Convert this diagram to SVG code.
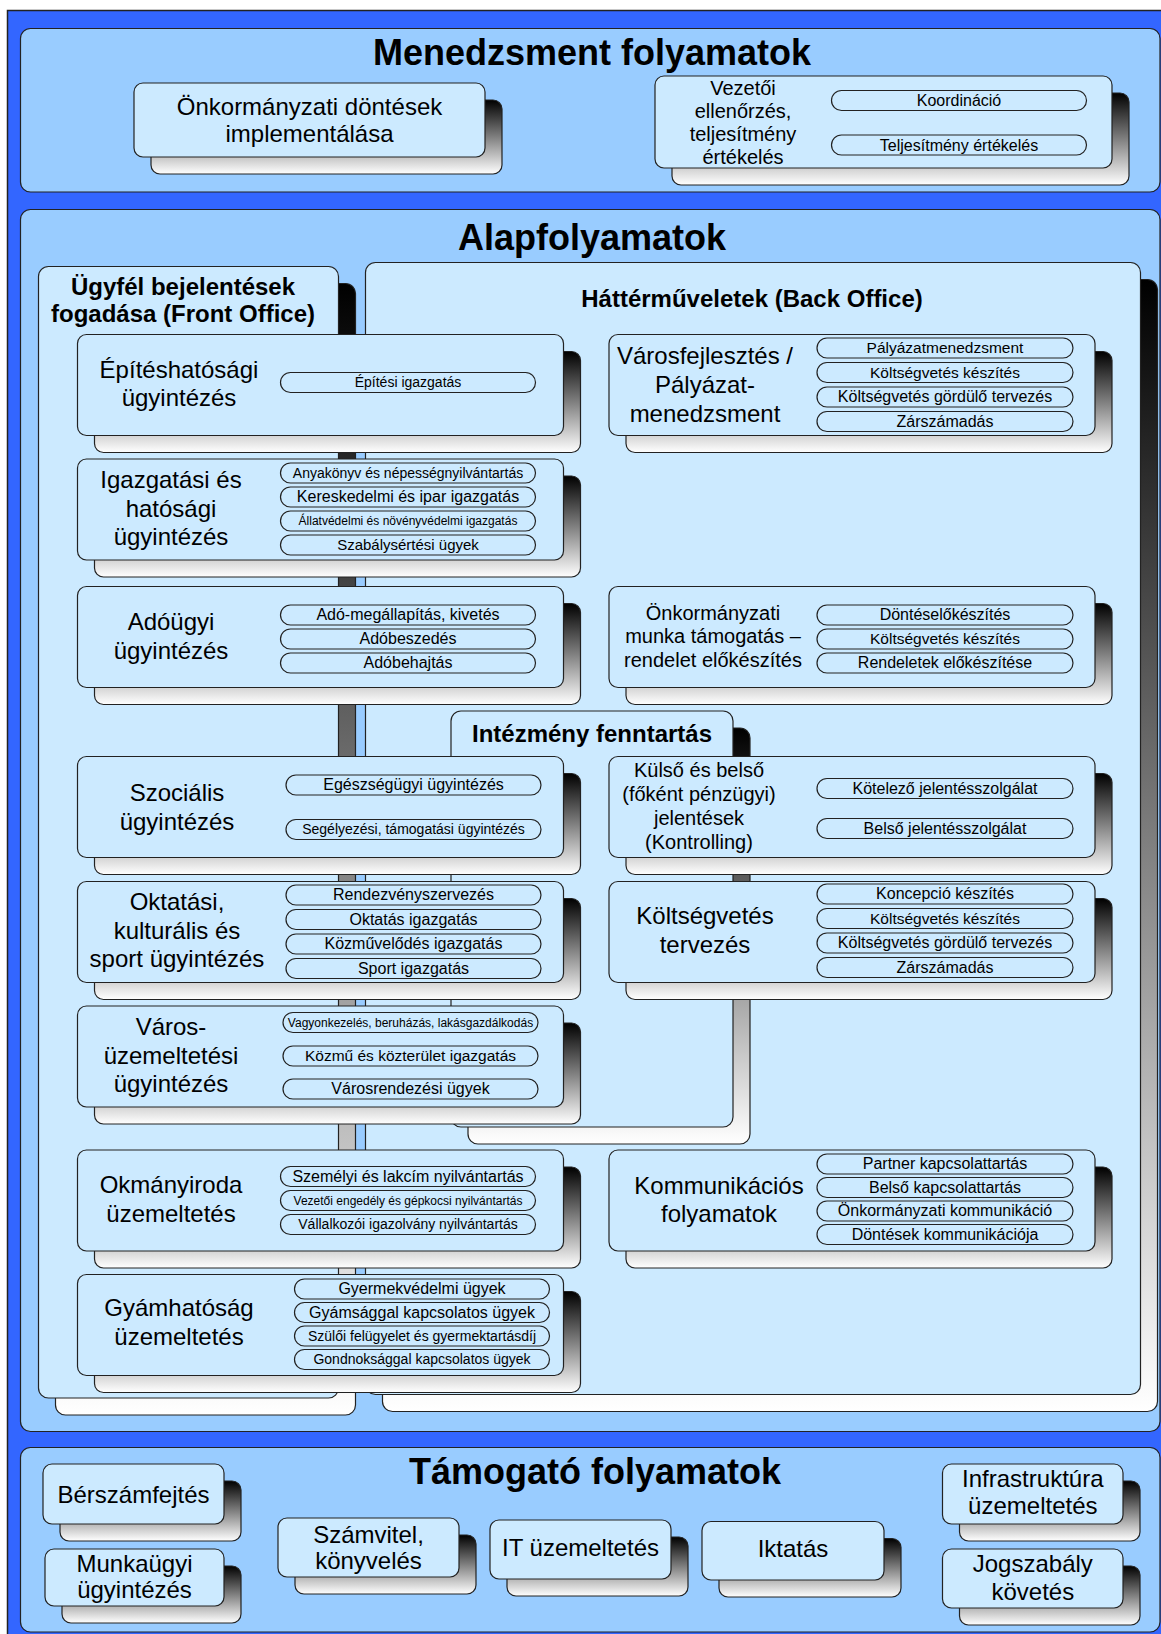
<svg xmlns="http://www.w3.org/2000/svg" width="1161" height="1634" viewBox="0 0 1161 1634">
  <defs>
    <linearGradient id="shade" x1="0" y1="0" x2="0" y2="1">
      <stop offset="0" stop-color="#000000"/>
      <stop offset="1" stop-color="#ffffff"/>
    </linearGradient>
    <style>
      .outer{fill:#3366ff;stroke:#222;stroke-width:1.5}
      .sec{fill:#99ccff;stroke:#222;stroke-width:1.2}
      .box{fill:#cceaff;stroke:#222;stroke-width:1.2}
      .sh{fill:url(#shade);stroke:#222;stroke-width:1.2}
      .pill{fill:#cceaff;stroke:#222;stroke-width:1.2}
      text{font-family:"Liberation Sans",Arial,sans-serif;fill:#000;text-anchor:middle}
      .h1{font-size:36px;font-weight:bold}
      .h2{font-size:24px;font-weight:bold}
      .l{font-size:24px}
      .m{font-size:20px}
      .p16{font-size:16px}
      .p155{font-size:15.5px}
      .p15{font-size:15px}
      .p14{font-size:14px}
      .p12{font-size:12px}
    </style>
  </defs>

  <!-- background frame and the three process bands -->
  <rect class="outer" x="7.5" y="10.5" width="1170" height="1640"/>
  <g id="menedzsment">
    <rect class="sec" x="20.5" y="28.5" width="1139.5" height="163.5" rx="10"/>
    <text class="h1" x="592" y="65">Menedzsment folyamatok</text>
  </g>
  <g id="alapfolyamatok">
    <rect class="sec" x="20.5" y="209.5" width="1139.5" height="1222" rx="10"/>
    <text class="h1" x="592" y="250">Alapfolyamatok</text>
  </g>
  <g id="tamogato">
    <rect class="sec" x="20.5" y="1447.5" width="1139.5" height="184.5" rx="10"/>
    <text class="h1" x="595" y="1484">Támogató folyamatok</text>
  </g>

  <!-- management processes -->
  <g id="onkorm-dontesek">
    <rect class="sh" x="151" y="100" width="351" height="74" rx="9"/>
    <rect class="box" x="134" y="83" width="351" height="74" rx="9"/>
    <text class="l" x="309.5" y="115">Önkormányzati döntések</text>
    <text class="l" x="309.5" y="142">implementálása</text>
  </g>
  <g id="vezetoi-ellenorzes">
    <rect class="sh" x="672" y="93" width="457" height="92" rx="9"/>
    <rect class="box" x="655" y="76" width="457" height="92" rx="9"/>
    <text class="m" x="743" y="95">Vezetői</text>
    <text class="m" x="743" y="118">ellenőrzés,</text>
    <text class="m" x="743" y="141">teljesítmény</text>
    <text class="m" x="743" y="164">értékelés</text>
    <rect class="pill" x="831.5" y="90.5" width="255" height="20" rx="10"/>
    <text class="p16" x="959" y="106">Koordináció</text>
    <rect class="pill" x="831.5" y="135" width="255" height="20" rx="10"/>
    <text class="p16" x="959" y="150.5">Teljesítmény értékelés</text>
  </g>

  <!-- containers of the core processes -->
  <g id="front-office">
    <rect class="sh" x="55.5" y="283.5" width="300" height="1131.5" rx="10"/>
    <rect class="box" x="38.5" y="266.5" width="300" height="1131.5" rx="10"/>
    <text class="h2" x="183" y="295">Ügyfél bejelentések</text>
    <text class="h2" x="183" y="322">fogadása (Front Office)</text>
  </g>
  <g id="back-office">
    <rect class="sh" x="382.5" y="279.5" width="775" height="1132" rx="10"/>
    <rect class="box" x="365.5" y="262.5" width="775" height="1132" rx="10"/>
    <text class="h2" x="752" y="307">Háttérműveletek (Back Office)</text>
  </g>
  <g id="intezmeny-fenntartas">
    <rect class="sh" x="468" y="728" width="282" height="416" rx="10"/>
    <rect class="box" x="451" y="711" width="282" height="416" rx="10"/>
    <text class="h2" x="592" y="742">Intézmény fenntartás</text>
  </g>

  <!-- front office units -->
  <g id="epiteshatosagi">
    <rect class="sh" x="94.5" y="351.5" width="486" height="101" rx="9"/>
    <rect class="box" x="77.5" y="334.5" width="486" height="101" rx="9"/>
    <text class="l" x="179" y="378">Építéshatósági</text>
    <text class="l" x="179" y="406">ügyintézés</text>
    <rect class="pill" x="280.5" y="372.5" width="255" height="20" rx="10"/>
    <text class="p14" x="408" y="387">Építési igazgatás</text>
  </g>
  <g id="igazgatasi">
    <rect class="sh" x="94.5" y="476" width="486" height="101" rx="9"/>
    <rect class="box" x="77.5" y="459" width="486" height="101" rx="9"/>
    <text class="l" x="171" y="488">Igazgatási és</text>
    <text class="l" x="171" y="516.5">hatósági</text>
    <text class="l" x="171" y="545">ügyintézés</text>
    <rect class="pill" x="280.5" y="463" width="255" height="20" rx="10"/>
    <text class="p14" x="408" y="477.5">Anyakönyv és népességnyilvántartás</text>
    <rect class="pill" x="280.5" y="487" width="255" height="20" rx="10"/>
    <text class="p16" x="408" y="502">Kereskedelmi és ipar igazgatás</text>
    <rect class="pill" x="280.5" y="511" width="255" height="20" rx="10"/>
    <text class="p12" x="408" y="525">Állatvédelmi és növényvédelmi igazgatás</text>
    <rect class="pill" x="280.5" y="535" width="255" height="20" rx="10"/>
    <text class="p15" x="408" y="549.5">Szabálysértési ügyek</text>
  </g>
  <g id="adougyi">
    <rect class="sh" x="94.5" y="603.5" width="486" height="101" rx="9"/>
    <rect class="box" x="77.5" y="586.5" width="486" height="101" rx="9"/>
    <text class="l" x="171" y="630">Adóügyi</text>
    <text class="l" x="171" y="658.5">ügyintézés</text>
    <rect class="pill" x="280.5" y="605" width="255" height="20" rx="10"/>
    <text class="p16" x="408" y="620">Adó-megállapítás, kivetés</text>
    <rect class="pill" x="280.5" y="629" width="255" height="20" rx="10"/>
    <text class="p16" x="408" y="644">Adóbeszedés</text>
    <rect class="pill" x="280.5" y="653" width="255" height="20" rx="10"/>
    <text class="p16" x="408" y="668">Adóbehajtás</text>
  </g>
  <g id="szocialis">
    <rect class="sh" x="94.5" y="773.5" width="486" height="101" rx="9"/>
    <rect class="box" x="77.5" y="756.5" width="486" height="101" rx="9"/>
    <text class="l" x="177" y="800.5">Szociális</text>
    <text class="l" x="177" y="829.5">ügyintézés</text>
    <rect class="pill" x="286" y="775" width="255" height="20" rx="10"/>
    <text class="p16" x="413.5" y="790">Egészségügyi ügyintézés</text>
    <rect class="pill" x="286" y="819.5" width="255" height="20" rx="10"/>
    <text class="p14" x="413.5" y="834">Segélyezési, támogatási ügyintézés</text>
  </g>
  <g id="oktatasi">
    <rect class="sh" x="94.5" y="898.5" width="486" height="101" rx="9"/>
    <rect class="box" x="77.5" y="881.5" width="486" height="101" rx="9"/>
    <text class="l" x="177" y="910">Oktatási,</text>
    <text class="l" x="177" y="938.5">kulturális és</text>
    <text class="l" x="177" y="967">sport ügyintézés</text>
    <rect class="pill" x="286" y="885" width="255" height="20" rx="10"/>
    <text class="p16" x="413.5" y="900">Rendezvényszervezés</text>
    <rect class="pill" x="286" y="909.5" width="255" height="20" rx="10"/>
    <text class="p16" x="413.5" y="924.5">Oktatás igazgatás</text>
    <rect class="pill" x="286" y="934" width="255" height="20" rx="10"/>
    <text class="p16" x="413.5" y="949">Közművelődés igazgatás</text>
    <rect class="pill" x="286" y="958.5" width="255" height="20" rx="10"/>
    <text class="p16" x="413.5" y="973.5">Sport igazgatás</text>
  </g>
  <g id="varosuzemeltetesi">
    <rect class="sh" x="94.5" y="1023" width="486" height="101" rx="9"/>
    <rect class="box" x="77.5" y="1006" width="486" height="101" rx="9"/>
    <text class="l" x="171" y="1035">Város-</text>
    <text class="l" x="171" y="1063.5">üzemeltetési</text>
    <text class="l" x="171" y="1092">ügyintézés</text>
    <rect class="pill" x="283" y="1012.5" width="255" height="20" rx="10"/>
    <text class="p12" x="410.5" y="1026.5">Vagyonkezelés, beruházás, lakásgazdálkodás</text>
    <rect class="pill" x="283" y="1046" width="255" height="20" rx="10"/>
    <text class="p155" x="410.5" y="1061">Közmű és közterület igazgatás</text>
    <rect class="pill" x="283" y="1079" width="255" height="20" rx="10"/>
    <text class="p16" x="410.5" y="1094">Városrendezési ügyek</text>
  </g>
  <g id="okmanyiroda">
    <rect class="sh" x="94.5" y="1167" width="486" height="101" rx="9"/>
    <rect class="box" x="77.5" y="1150" width="486" height="101" rx="9"/>
    <text class="l" x="171" y="1193">Okmányiroda</text>
    <text class="l" x="171" y="1222">üzemeltetés</text>
    <rect class="pill" x="280.5" y="1166.5" width="255" height="20" rx="10"/>
    <text class="p16" x="408" y="1181.5">Személyi és lakcím nyilvántartás</text>
    <rect class="pill" x="280.5" y="1190.5" width="255" height="20" rx="10"/>
    <text class="p12" x="408" y="1204.5">Vezetői engedély és gépkocsi nyilvántartás</text>
    <rect class="pill" x="280.5" y="1214.5" width="255" height="20" rx="10"/>
    <text class="p14" x="408" y="1229">Vállalkozói igazolvány nyilvántartás</text>
  </g>
  <g id="gyamhatosag">
    <rect class="sh" x="94.5" y="1291.5" width="486" height="101" rx="9"/>
    <rect class="box" x="77.5" y="1274.5" width="486" height="101" rx="9"/>
    <text class="l" x="179" y="1316">Gyámhatóság</text>
    <text class="l" x="179" y="1345">üzemeltetés</text>
    <rect class="pill" x="294.5" y="1279" width="255" height="20" rx="10"/>
    <text class="p16" x="422" y="1294">Gyermekvédelmi ügyek</text>
    <rect class="pill" x="294.5" y="1302.5" width="255" height="20" rx="10"/>
    <text class="p16" x="422" y="1317.5">Gyámsággal kapcsolatos ügyek</text>
    <rect class="pill" x="294.5" y="1326" width="255" height="20" rx="10"/>
    <text class="p14" x="422" y="1340.5">Szülői felügyelet és gyermektartásdíj</text>
    <rect class="pill" x="294.5" y="1349.5" width="255" height="20" rx="10"/>
    <text class="p14" x="422" y="1364">Gondnoksággal kapcsolatos ügyek</text>
  </g>

  <!-- back office units -->
  <g id="varosfejlesztes">
    <rect class="sh" x="626" y="351.5" width="486" height="101" rx="9"/>
    <rect class="box" x="609" y="334.5" width="486" height="101" rx="9"/>
    <text class="l" x="705" y="364">Városfejlesztés /</text>
    <text class="l" x="705" y="393">Pályázat-</text>
    <text class="l" x="705" y="421.5">menedzsment</text>
    <rect class="pill" x="817" y="338" width="256" height="20" rx="10"/>
    <text class="p155" x="945" y="353">Pályázatmenedzsment</text>
    <rect class="pill" x="817" y="362.5" width="256" height="20" rx="10"/>
    <text class="p155" x="945" y="377.5">Költségvetés készítés</text>
    <rect class="pill" x="817" y="387" width="256" height="20" rx="10"/>
    <text class="p16" x="945" y="402">Költségvetés gördülő tervezés</text>
    <rect class="pill" x="817" y="411.5" width="256" height="20" rx="10"/>
    <text class="p16" x="945" y="426.5">Zárszámadás</text>
  </g>
  <g id="onkorm-munka">
    <rect class="sh" x="626" y="603.5" width="486" height="101" rx="9"/>
    <rect class="box" x="609" y="586.5" width="486" height="101" rx="9"/>
    <text class="m" x="713" y="619.5">Önkormányzati</text>
    <text class="m" x="713" y="643">munka támogatás –</text>
    <text class="m" x="713" y="667">rendelet előkészítés</text>
    <rect class="pill" x="817" y="605" width="256" height="20" rx="10"/>
    <text class="p16" x="945" y="620">Döntéselőkészítés</text>
    <rect class="pill" x="817" y="629" width="256" height="20" rx="10"/>
    <text class="p155" x="945" y="644">Költségvetés készítés</text>
    <rect class="pill" x="817" y="653" width="256" height="20" rx="10"/>
    <text class="p16" x="945" y="668">Rendeletek előkészítése</text>
  </g>
  <g id="jelentesek">
    <rect class="sh" x="626" y="773.5" width="486" height="101" rx="9"/>
    <rect class="box" x="609" y="756.5" width="486" height="101" rx="9"/>
    <text class="m" x="699" y="777">Külső és belső</text>
    <text class="m" x="699" y="801">(főként pénzügyi)</text>
    <text class="m" x="699" y="824.5">jelentések</text>
    <text class="m" x="699" y="848.5">(Kontrolling)</text>
    <rect class="pill" x="817" y="778.5" width="256" height="20" rx="10"/>
    <text class="p16" x="945" y="793.5">Kötelező jelentésszolgálat</text>
    <rect class="pill" x="817" y="818.5" width="256" height="20" rx="10"/>
    <text class="p16" x="945" y="833.5">Belső jelentésszolgálat</text>
  </g>
  <g id="koltsegvetes-tervezes">
    <rect class="sh" x="626" y="898.5" width="486" height="101" rx="9"/>
    <rect class="box" x="609" y="881.5" width="486" height="101" rx="9"/>
    <text class="l" x="705" y="923.5">Költségvetés</text>
    <text class="l" x="705" y="952.5">tervezés</text>
    <rect class="pill" x="817" y="884" width="256" height="20" rx="10"/>
    <text class="p16" x="945" y="899">Koncepció készítés</text>
    <rect class="pill" x="817" y="908.5" width="256" height="20" rx="10"/>
    <text class="p155" x="945" y="923.5">Költségvetés készítés</text>
    <rect class="pill" x="817" y="933" width="256" height="20" rx="10"/>
    <text class="p16" x="945" y="948">Költségvetés gördülő tervezés</text>
    <rect class="pill" x="817" y="957.5" width="256" height="20" rx="10"/>
    <text class="p16" x="945" y="972.5">Zárszámadás</text>
  </g>
  <g id="kommunikacios">
    <rect class="sh" x="626" y="1167" width="486" height="101" rx="9"/>
    <rect class="box" x="609" y="1150" width="486" height="101" rx="9"/>
    <text class="l" x="719" y="1193.5">Kommunikációs</text>
    <text class="l" x="719" y="1221.5">folyamatok</text>
    <rect class="pill" x="817" y="1154" width="256" height="20" rx="10"/>
    <text class="p16" x="945" y="1169">Partner kapcsolattartás</text>
    <rect class="pill" x="817" y="1177.5" width="256" height="20" rx="10"/>
    <text class="p16" x="945" y="1192.5">Belső kapcsolattartás</text>
    <rect class="pill" x="817" y="1201" width="256" height="20" rx="10"/>
    <text class="p16" x="945" y="1216">Önkormányzati kommunikáció</text>
    <rect class="pill" x="817" y="1224.5" width="256" height="20" rx="10"/>
    <text class="p16" x="945" y="1239.5">Döntések kommunikációja</text>
  </g>

  <!-- support processes -->
  <g id="berszamfejtes">
    <rect class="sh" x="60" y="1481" width="181" height="60" rx="9"/>
    <rect class="box" x="43" y="1464" width="181" height="60" rx="9"/>
    <text class="l" x="133.5" y="1503">Bérszámfejtés</text>
  </g>
  <g id="munkaugyi">
    <rect class="sh" x="62" y="1566" width="179" height="57" rx="9"/>
    <rect class="box" x="45" y="1549" width="179" height="57" rx="9"/>
    <text class="l" x="134.5" y="1572">Munkaügyi</text>
    <text class="l" x="134.5" y="1598">ügyintézés</text>
  </g>
  <g id="szamvitel">
    <rect class="sh" x="295" y="1535" width="181" height="59" rx="9"/>
    <rect class="box" x="278" y="1518" width="181" height="59" rx="9"/>
    <text class="l" x="368.5" y="1543">Számvitel,</text>
    <text class="l" x="368.5" y="1569">könyvelés</text>
  </g>
  <g id="it-uzemeltetes">
    <rect class="sh" x="507" y="1537" width="181" height="59" rx="9"/>
    <rect class="box" x="490" y="1520" width="181" height="59" rx="9"/>
    <text class="l" x="580.5" y="1556">IT üzemeltetés</text>
  </g>
  <g id="iktatas">
    <rect class="sh" x="719" y="1538.5" width="182" height="58.5" rx="9"/>
    <rect class="box" x="702" y="1521.5" width="182" height="58.5" rx="9"/>
    <text class="l" x="793" y="1557">Iktatás</text>
  </g>
  <g id="infrastruktura">
    <rect class="sh" x="959.5" y="1481" width="180.5" height="60" rx="9"/>
    <rect class="box" x="942.5" y="1464" width="180.5" height="60" rx="9"/>
    <text class="l" x="1032.8" y="1487">Infrastruktúra</text>
    <text class="l" x="1032.8" y="1514">üzemeltetés</text>
  </g>
  <g id="jogszabaly">
    <rect class="sh" x="959.5" y="1566" width="180.5" height="59" rx="9"/>
    <rect class="box" x="942.5" y="1549" width="180.5" height="59" rx="9"/>
    <text class="l" x="1032.8" y="1572">Jogszabály</text>
    <text class="l" x="1032.8" y="1600">követés</text>
  </g>
</svg>
